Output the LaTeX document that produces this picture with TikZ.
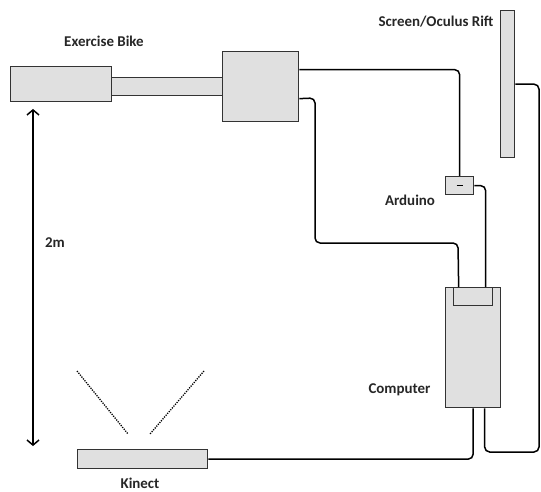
\documentclass[tikz,border=0pt]{standalone}
\usepackage{fontspec}
\setmainfont{Carlito}
\usetikzlibrary{arrows.meta}
\tikzset{
  part/.style={draw=black!80,fill=black!12,line width=1.3bp,inner sep=0pt,anchor=north west},
  lbl/.style={font=\bfseries\fontsize{15}{17}\selectfont,text=black!85},
  wire/.style={line width=1.5bp,rounded corners=5bp},
  beam/.style={line width=1.3bp,dash pattern=on 1.2bp off 1.2bp}
}
\begin{document}
\begin{tikzpicture}[x=1bp,y=-1bp]
\path[use as bounding box] (0,0) rectangle (541,492);
% bike
\node[part,minimum width=112bp,minimum height=18bp] (bar) at (110,77) {};
\node[part,minimum width=101bp,minimum height=35bp] (bike) at (10,66) {};
\node[part,minimum width=76bp,minimum height=70bp] (hbar) at (222,51) {};
\node[lbl] (bikelbl) at (104,41) {Exercise Bike};
% screen
\node[part,minimum width=14bp,minimum height=147bp] (screen) at (500,10) {};
\node[lbl,anchor=east] (screenlbl) at (497,22) {Screen/Oculus Rift};
% arduino
\node[part,minimum width=28bp,minimum height=18bp] (ard) at (445,176) {};
\draw[line width=1.5bp] ([xshift=-3bp]ard.center) -- ([xshift=3bp]ard.center);
\node[lbl] (ardlbl) at (410,200) {Arduino};
% computer
\node[part,minimum width=55bp,minimum height=120bp] (comp) at (445,287) {};
\node[part,minimum width=39bp,minimum height=18bp] (conn) at (453,287) {};
\node[lbl,anchor=east] (complbl) at (434,390) {Computer};
% kinect
\node[part,minimum width=130bp,minimum height=19bp] (kinect) at (77,449) {};
\node[lbl] (kinectlbl) at (140,483) {Kinect};
\draw[beam] (77,371) -- (128,434);
\draw[beam] (204,371) -- (150,434);
% wires
\draw[wire] ([yshift=17bp]hbar.east) -| (ard.north);
\draw[wire] ([yshift=-12bp]hbar.east) -- (315,98) -- (315,243) -- (458,243) -- ([xshift=-14.5bp]conn.north);
\draw[wire] (ard.east) -| ([xshift=12.5bp]conn.north);
\draw[wire] (screen.east) -| (539,452) -| ([xshift=11.5bp]comp.south);
\draw[wire] (kinect.east) -| (comp.south);
% distance
\coordinate (dtop) at (33,109);
\coordinate (dbot) at (33,446);
\draw[line width=1.5bp,{Straight Barb[length=5bp,width=12bp]}-{Straight Barb[length=5bp,width=12bp]}] (dtop) -- (dbot);
\node[lbl] (dlbl) at (55,243) {2m};
\end{tikzpicture}
\end{document}
